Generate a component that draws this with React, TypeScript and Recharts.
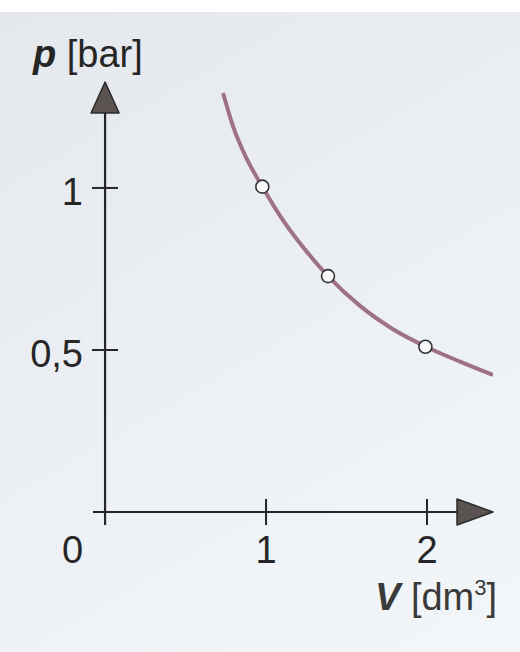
import {
  ComposedChart,
  Line,
  Scatter,
  XAxis,
  YAxis,
  ReferenceLine,
  Label,
} from "recharts";

// isotherm: V in dm3, p in bar
const curveV = [0.733, 0.795, 0.882, 0.977, 1.106, 1.255, 1.385, 1.584, 1.789, 1.994, 2.205, 2.41];
const curveP = [1.293, 1.19, 1.088, 1.004, 0.9, 0.802, 0.728, 0.636, 0.564, 0.51, 0.464, 0.423];

// measured points (open circles)
const pointV = [0.977, 1.385, 1.99];
const pointP = [1.004, 0.728, 0.51];

const xTicks = [0, 1, 2];
const yTicks = [0.5, 1];

const curveData = curveV.map((v, i) => ({ v, p: curveP[i] }));
const pointData = pointV.map((v, i) => ({ v, p: pointP[i] }));

const FONT = '"Liberation Sans", Arial, Helvetica, sans-serif';
const INK = "#262626";

const fmt = (n: number) => String(n).replace(".", ",");

function XTick(props: any) {
  const { x, y, payload } = props;
  const value = payload.value;
  if (value === 0) {
    return (
      <text x={x - 22} y={y + 38} textAnchor="end" fontFamily={FONT} fontSize={38} fill={INK}>
        0
      </text>
    );
  }
  return (
    <g>
      <line x1={x} x2={x} y1={y - 26} y2={y} stroke={INK} strokeWidth={2} />
      <text x={x} y={y + 38} textAnchor="middle" fontFamily={FONT} fontSize={38} fill={INK}>
        {fmt(value)}
      </text>
    </g>
  );
}

function YTick(props: any) {
  const { x, y, payload } = props;
  return (
    <g>
      <line x1={x - 1} x2={x + 25} y1={y} y2={y} stroke={INK} strokeWidth={2} />
      <text x={x - 10} y={y + 17} textAnchor="end" fontFamily={FONT} fontSize={38} fill={INK}>
        {fmt(payload.value)}
      </text>
    </g>
  );
}

function VerticalArrow(props: any) {
  const { x1, y1, y2 } = props;
  const top = Math.min(y1, y2);
  const bottom = Math.max(y1, y2);
  return (
    <g>
      <line x1={x1} x2={x1} y1={bottom} y2={top + 20} stroke={INK} strokeWidth={2.2} />
      <polygon
        points={`${x1},${top} ${x1 - 14},${top + 31} ${x1 + 14},${top + 31}`}
        fill="#5b5352"
        stroke="#2b2b2b"
        strokeWidth={1.5}
        strokeLinejoin="round"
      />
    </g>
  );
}

function HorizontalArrow(props: any) {
  const { x1, x2, y1 } = props;
  const left = Math.min(x1, x2);
  const right = Math.max(x1, x2);
  return (
    <g>
      <line x1={left} x2={right - 20} y1={y1} y2={y1} stroke={INK} strokeWidth={2.2} />
      <polygon
        points={`${right},${y1} ${right - 36},${y1 - 13} ${right - 36},${y1 + 13}`}
        fill="#5b5352"
        stroke="#2b2b2b"
        strokeWidth={1.5}
        strokeLinejoin="round"
      />
    </g>
  );
}

function Dot(props: any) {
  const { cx, cy } = props;
  return <circle cx={cx} cy={cy} r={6.5} fill="#f8f9fb" stroke="#333" strokeWidth={1.6} />;
}

export default function App() {
  return (
    <div
      style={{
        position: "absolute",
        left: 0,
        top: 0,
        width: 520,
        height: 652,
        background:
          "linear-gradient(to bottom, #ffffff 0, #ffffff 12px, transparent 12px), linear-gradient(150deg, #e4e8ec 0%, #ebeff3 45%, #f3f6f9 100%)",
      }}
    >
      <ComposedChart width={520} height={652} margin={{ top: 82, right: 27, bottom: 126, left: 92 }}>
        <XAxis
          type="number"
          dataKey="v"
          domain={[-0.075, 2.41]}
          ticks={xTicks}
          interval={0}
          height={1}
          axisLine={false}
          tickLine={false}
          tickSize={0}
          tickMargin={0}
          tick={<XTick />}
          allowDataOverflow
        >
          <Label
            content={() => (
              <text x={375} y={610} fontFamily={FONT} fontSize={38} fill="#3a3a3a">
                <tspan fontWeight="bold" fontStyle="italic">V</tspan>
                <tspan>{" [dm"}</tspan>
                <tspan fontSize={22} dy={-15}>3</tspan>
                <tspan dy={15}>]</tspan>
              </text>
            )}
          />
        </XAxis>
        <YAxis
          type="number"
          dataKey="p"
          domain={[-0.0401, 1.327]}
          ticks={yTicks}
          interval={0}
          width={1}
          axisLine={false}
          tickLine={false}
          tickSize={0}
          tickMargin={0}
          tick={<YTick />}
          allowDataOverflow
        >
          <Label
            content={() => (
              <text x={33} y={67} fontFamily={FONT} fontSize={38} fill={INK}>
                <tspan fontWeight="bold" fontStyle="italic">p</tspan>
                <tspan>{" [bar]"}</tspan>
              </text>
            )}
          />
        </YAxis>
        <ReferenceLine x={0} stroke={INK} shape={<VerticalArrow />} />
        <ReferenceLine y={0} stroke={INK} shape={<HorizontalArrow />} />
        <Line
          data={curveData}
          dataKey="p"
          type="monotone"
          stroke="#9e7189"
          strokeWidth={4}
          dot={false}
          activeDot={false}
          isAnimationActive={false}
        />
        <Scatter data={pointData} dataKey="p" shape={<Dot />} isAnimationActive={false} />
      </ComposedChart>
    </div>
  );
}
